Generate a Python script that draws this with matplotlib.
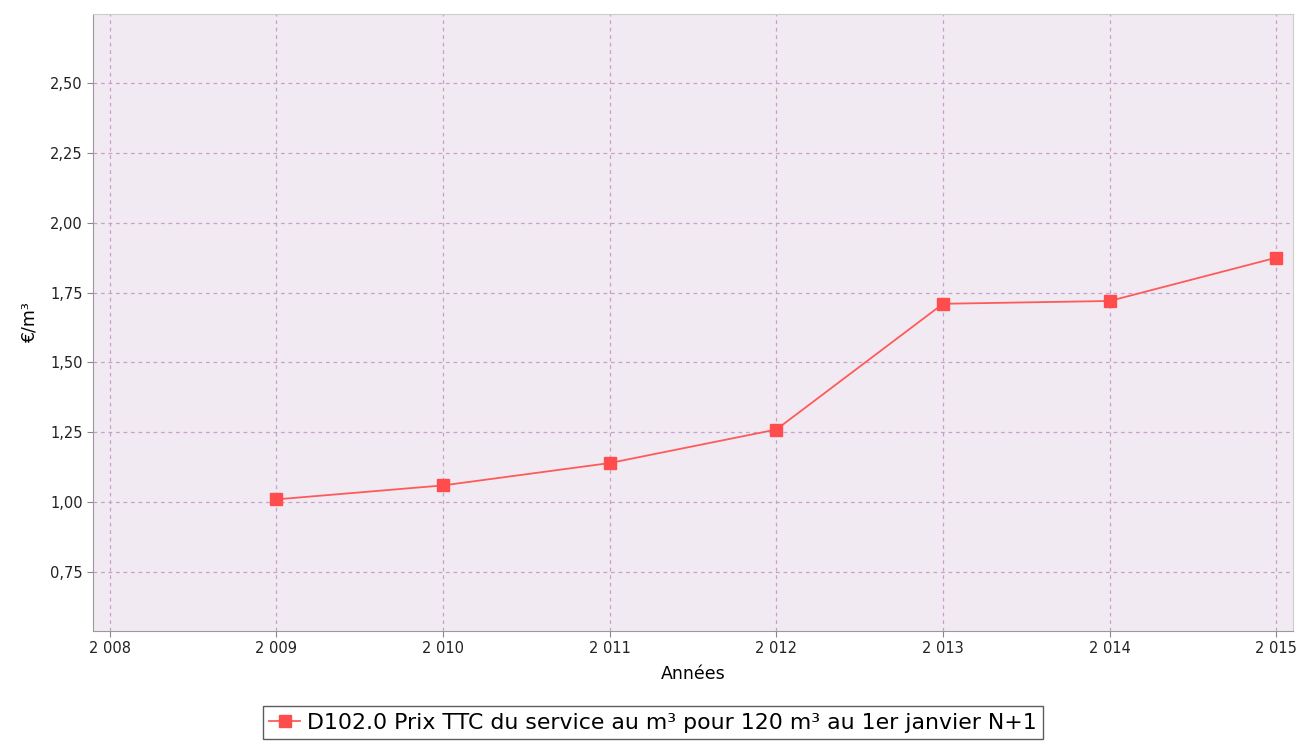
import matplotlib.pyplot as plt
from matplotlib.ticker import FuncFormatter

plt.rcParams['font.family'] = ['DejaVu Sans']

# data
years = [2009, 2010, 2011, 2012, 2013, 2014, 2015]
prix = [1.01, 1.06, 1.14, 1.26, 1.71, 1.72, 1.875]
x_ticks = [2008, 2009, 2010, 2011, 2012, 2013, 2014, 2015]
y_ticks = [0.75, 1.00, 1.25, 1.50, 1.75, 2.00, 2.25, 2.50]
serie = "D102.0 Prix TTC du service au m³ pour 120 m³ au 1er janvier N+1"

fig = plt.figure(figsize=(13.03, 7.42), dpi=100)
ax = fig.add_axes([93 / 1303, 1 - 631 / 742, 1200 / 1303, 617 / 742])
ax.set_facecolor('#f2eaf3')

ax.plot(years, prix, color='#ff5a5a', linewidth=1.3, marker='s',
        markersize=8, markeredgecolor='#ff4d4d', markerfacecolor='#ff4d4d',
        label=serie, zorder=3)

ax.set_xlim(2007.9, 2015.1)
ax.set_ylim(0.539, 2.747)
ax.set_xticks(x_ticks)
ax.set_yticks(y_ticks)
ax.xaxis.set_major_formatter(FuncFormatter(lambda v, p: '%d %03d' % (int(v) // 1000, int(v) % 1000)))
ax.yaxis.set_major_formatter(FuncFormatter(lambda v, p: ('%.2f' % v).replace('.', ',')))
ax.grid(True, color='#c6a2c9', linestyle=(0, (3, 3)), linewidth=0.9)
ax.tick_params(labelsize=10.5, color='#888888', length=4, colors='#222222')

for s in ax.spines.values():
    s.set_color('#999999')
ax.spines['right'].set_color('#cccccc')
ax.spines['top'].set_color('#cccccc')

ax.set_xlabel('Années', fontsize=12.5, labelpad=6)
ax.set_ylabel('€/m³', fontsize=12.5, labelpad=8)

# legend sits centred on the figure, not the axes
leg = ax.legend(loc='upper center', bbox_to_anchor=(0.4665, -0.1216), fontsize=15.8,
                frameon=True, fancybox=False, handlelength=1.4, borderpad=0.3,
                handletextpad=0.3, borderaxespad=0)
leg.get_frame().set_edgecolor('#333333')
leg.get_frame().set_linewidth(1.0)

fig.savefig('out.png', dpi=100)
